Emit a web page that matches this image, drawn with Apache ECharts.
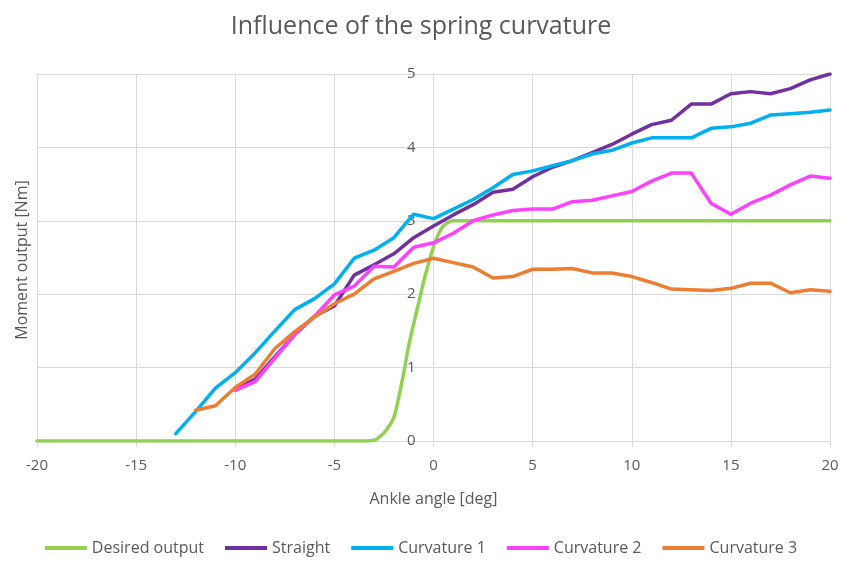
<!DOCTYPE html>
<html>
<head>
<meta charset="utf-8">
<title>Influence of the spring curvature</title>
<script src="https://cdn.jsdelivr.net/npm/echarts@6/dist/echarts.min.js"></script>
<style>
  html, body { margin: 0; padding: 0; background: #fff; }
  #chart { width: 842px; height: 561px; }
</style>
</head>
<body>
<div id="chart"></div>
<script>
// Ankle angles (deg) at which the spring variants were evaluated
const angles = [-13, -12, -11, -10, -9, -8, -7, -6, -5, -4, -3, -2, -1, 0, 1, 2, 3, 4, 5, 6,
  7, 8, 9, 10, 11, 12, 13, 14, 15, 16, 17, 18, 19, 20];

// Moment output (Nm) per spring shape; null = no measurement at that angle
const straight = [null, null, null, 0.71, 0.84, 1.15, 1.45, 1.70, 1.84, 2.26, 2.40, 2.55, 2.77, 2.93,
  3.08, 3.22, 3.39, 3.43, 3.60, 3.73, 3.82, 3.93, 4.04, 4.18, 4.31, 4.37, 4.59, 4.59, 4.73, 4.76,
  4.73, 4.80, 4.92, 5.00];
const curvature1 = [0.10, 0.40, 0.72, 0.93, 1.20, 1.50, 1.79, 1.94, 2.14, 2.49, 2.60, 2.77, 3.09, 3.03,
  3.16, 3.29, 3.45, 3.63, 3.68, 3.75, 3.82, 3.91, 3.96, 4.06, 4.13, 4.13, 4.13, 4.26, 4.28, 4.33,
  4.44, 4.46, 4.48, 4.51];
const curvature2 = [null, null, null, 0.69, 0.81, 1.13, 1.45, 1.70, 1.99, 2.11, 2.38, 2.37, 2.64, 2.70,
  2.83, 3.00, 3.08, 3.14, 3.16, 3.16, 3.26, 3.28, 3.34, 3.40, 3.54, 3.65, 3.65, 3.24, 3.09, 3.24,
  3.35, 3.49, 3.61, 3.58];
const curvature3 = [null, 0.42, 0.48, 0.73, 0.91, 1.26, 1.49, 1.69, 1.87, 2.00, 2.21, 2.31, 2.42, 2.49,
  2.43, 2.37, 2.22, 2.24, 2.34, 2.34, 2.35, 2.29, 2.29, 2.24, 2.16, 2.07, 2.06, 2.05, 2.08, 2.15,
  2.15, 2.02, 2.06, 2.04];

// Target moment curve, sampled more finely around the transition
const desiredAngles = [-20, -3.5, -3, -2.75, -2.5, -2.25, -2, -1.75, -1.5, -1.25, -1, -0.75, -0.5,
  -0.25, 0, 0.25, 0.5, 0.75, 1, 20];
const desiredMoment = [0, 0, 0.01, 0.05, 0.11, 0.2, 0.32, 0.6, 0.93, 1.3, 1.6, 1.88, 2.17,
  2.42, 2.65, 2.82, 2.93, 2.98, 3, 3];

const seriesNames = ['Desired output', 'Straight', 'Curvature 1', 'Curvature 2', 'Curvature 3'];
const seriesColors = ['#92d050', '#7030a0', '#00b0f0', '#ff40ff', '#ed7d31'];

const xTicks = { min: -20, max: 20, step: 5 };
const yTicks = { min: 0, max: 5, step: 1 };

function pairs(xs, ys) {
  const out = [];
  xs.forEach((x, i) => { if (ys[i] !== null) out.push([x, ys[i]]); });
  return out;
}

const seriesData = [
  pairs(desiredAngles, desiredMoment),
  pairs(angles, straight),
  pairs(angles, curvature1),
  pairs(angles, curvature2),
  pairs(angles, curvature3)
];

const FONT = 'Open Sans';
const TEXT = '#595959';
const GRID_LINE = '#d9d9d9';

const CHART_W = 842;
const GRID = { left: 37, right: 12, top: 74, bottom: 120 };
// The vertical axis crosses the horizontal one at angle 0
const plotWidth = CHART_W - GRID.left - GRID.right;
const yAxisShift = -plotWidth * (0 - xTicks.min) / (xTicks.max - xTicks.min);

const chart = echarts.init(document.getElementById('chart'), null, { renderer: 'canvas' });

chart.setOption({
  animation: false,
  backgroundColor: '#ffffff',
  color: seriesColors,
  textStyle: { fontFamily: FONT },
  title: {
    text: 'Influence of the spring curvature',
    left: 'center',
    top: 9,
    textStyle: { color: TEXT, fontSize: 25, fontWeight: 'normal', fontFamily: FONT }
  },
  grid: Object.assign({ containLabel: false }, GRID),
  legend: {
    data: seriesNames,
    bottom: 0,
    left: 'center',
    icon: 'rect',
    itemWidth: 42,
    itemHeight: 4,
    itemGap: 21,
    textStyle: { color: TEXT, fontSize: 16, fontFamily: FONT }
  },
  xAxis: {
    type: 'value',
    min: xTicks.min,
    max: xTicks.max,
    interval: xTicks.step,
    name: 'Ankle angle [deg]',
    nameLocation: 'middle',
    nameGap: 50,
    nameTextStyle: { color: TEXT, fontSize: 16, fontFamily: FONT },
    axisLine: { show: true, onZero: false, lineStyle: { color: GRID_LINE, width: 1 } },
    axisTick: { show: true, length: 6, lineStyle: { color: GRID_LINE } },
    axisLabel: { color: TEXT, fontSize: 15, margin: 17, fontFamily: FONT },
    splitLine: { show: true, lineStyle: { color: GRID_LINE, width: 1 } }
  },
  yAxis: {
    type: 'value',
    min: yTicks.min,
    max: yTicks.max,
    interval: yTicks.step,
    position: 'left',
    offset: yAxisShift,
    axisLine: { show: true, onZero: false, lineStyle: { color: GRID_LINE, width: 1 } },
    axisTick: { show: false },
    axisLabel: { color: TEXT, fontSize: 15, margin: 18, fontFamily: FONT },
    splitLine: { show: true, lineStyle: { color: GRID_LINE, width: 1 } }
  },
  graphic: [{
    type: 'text',
    x: 22,
    y: 260,
    rotation: Math.PI / 2,
    style: {
      text: 'Moment output [Nm]',
      fill: TEXT,
      font: '16px "' + FONT + '"',
      align: 'center',
      verticalAlign: 'middle'
    }
  }],
  series: seriesNames.map((name, i) => ({
    name: name,
    type: 'line',
    data: seriesData[i],
    showSymbol: false,
    symbol: 'none',
    smooth: i === 0 ? 0.3 : false,
    lineStyle: { width: 3.5, color: seriesColors[i], cap: 'round', join: 'round' },
    itemStyle: { color: seriesColors[i] },
    z: 2 + i
  }))
});
</script>
</body>
</html>
